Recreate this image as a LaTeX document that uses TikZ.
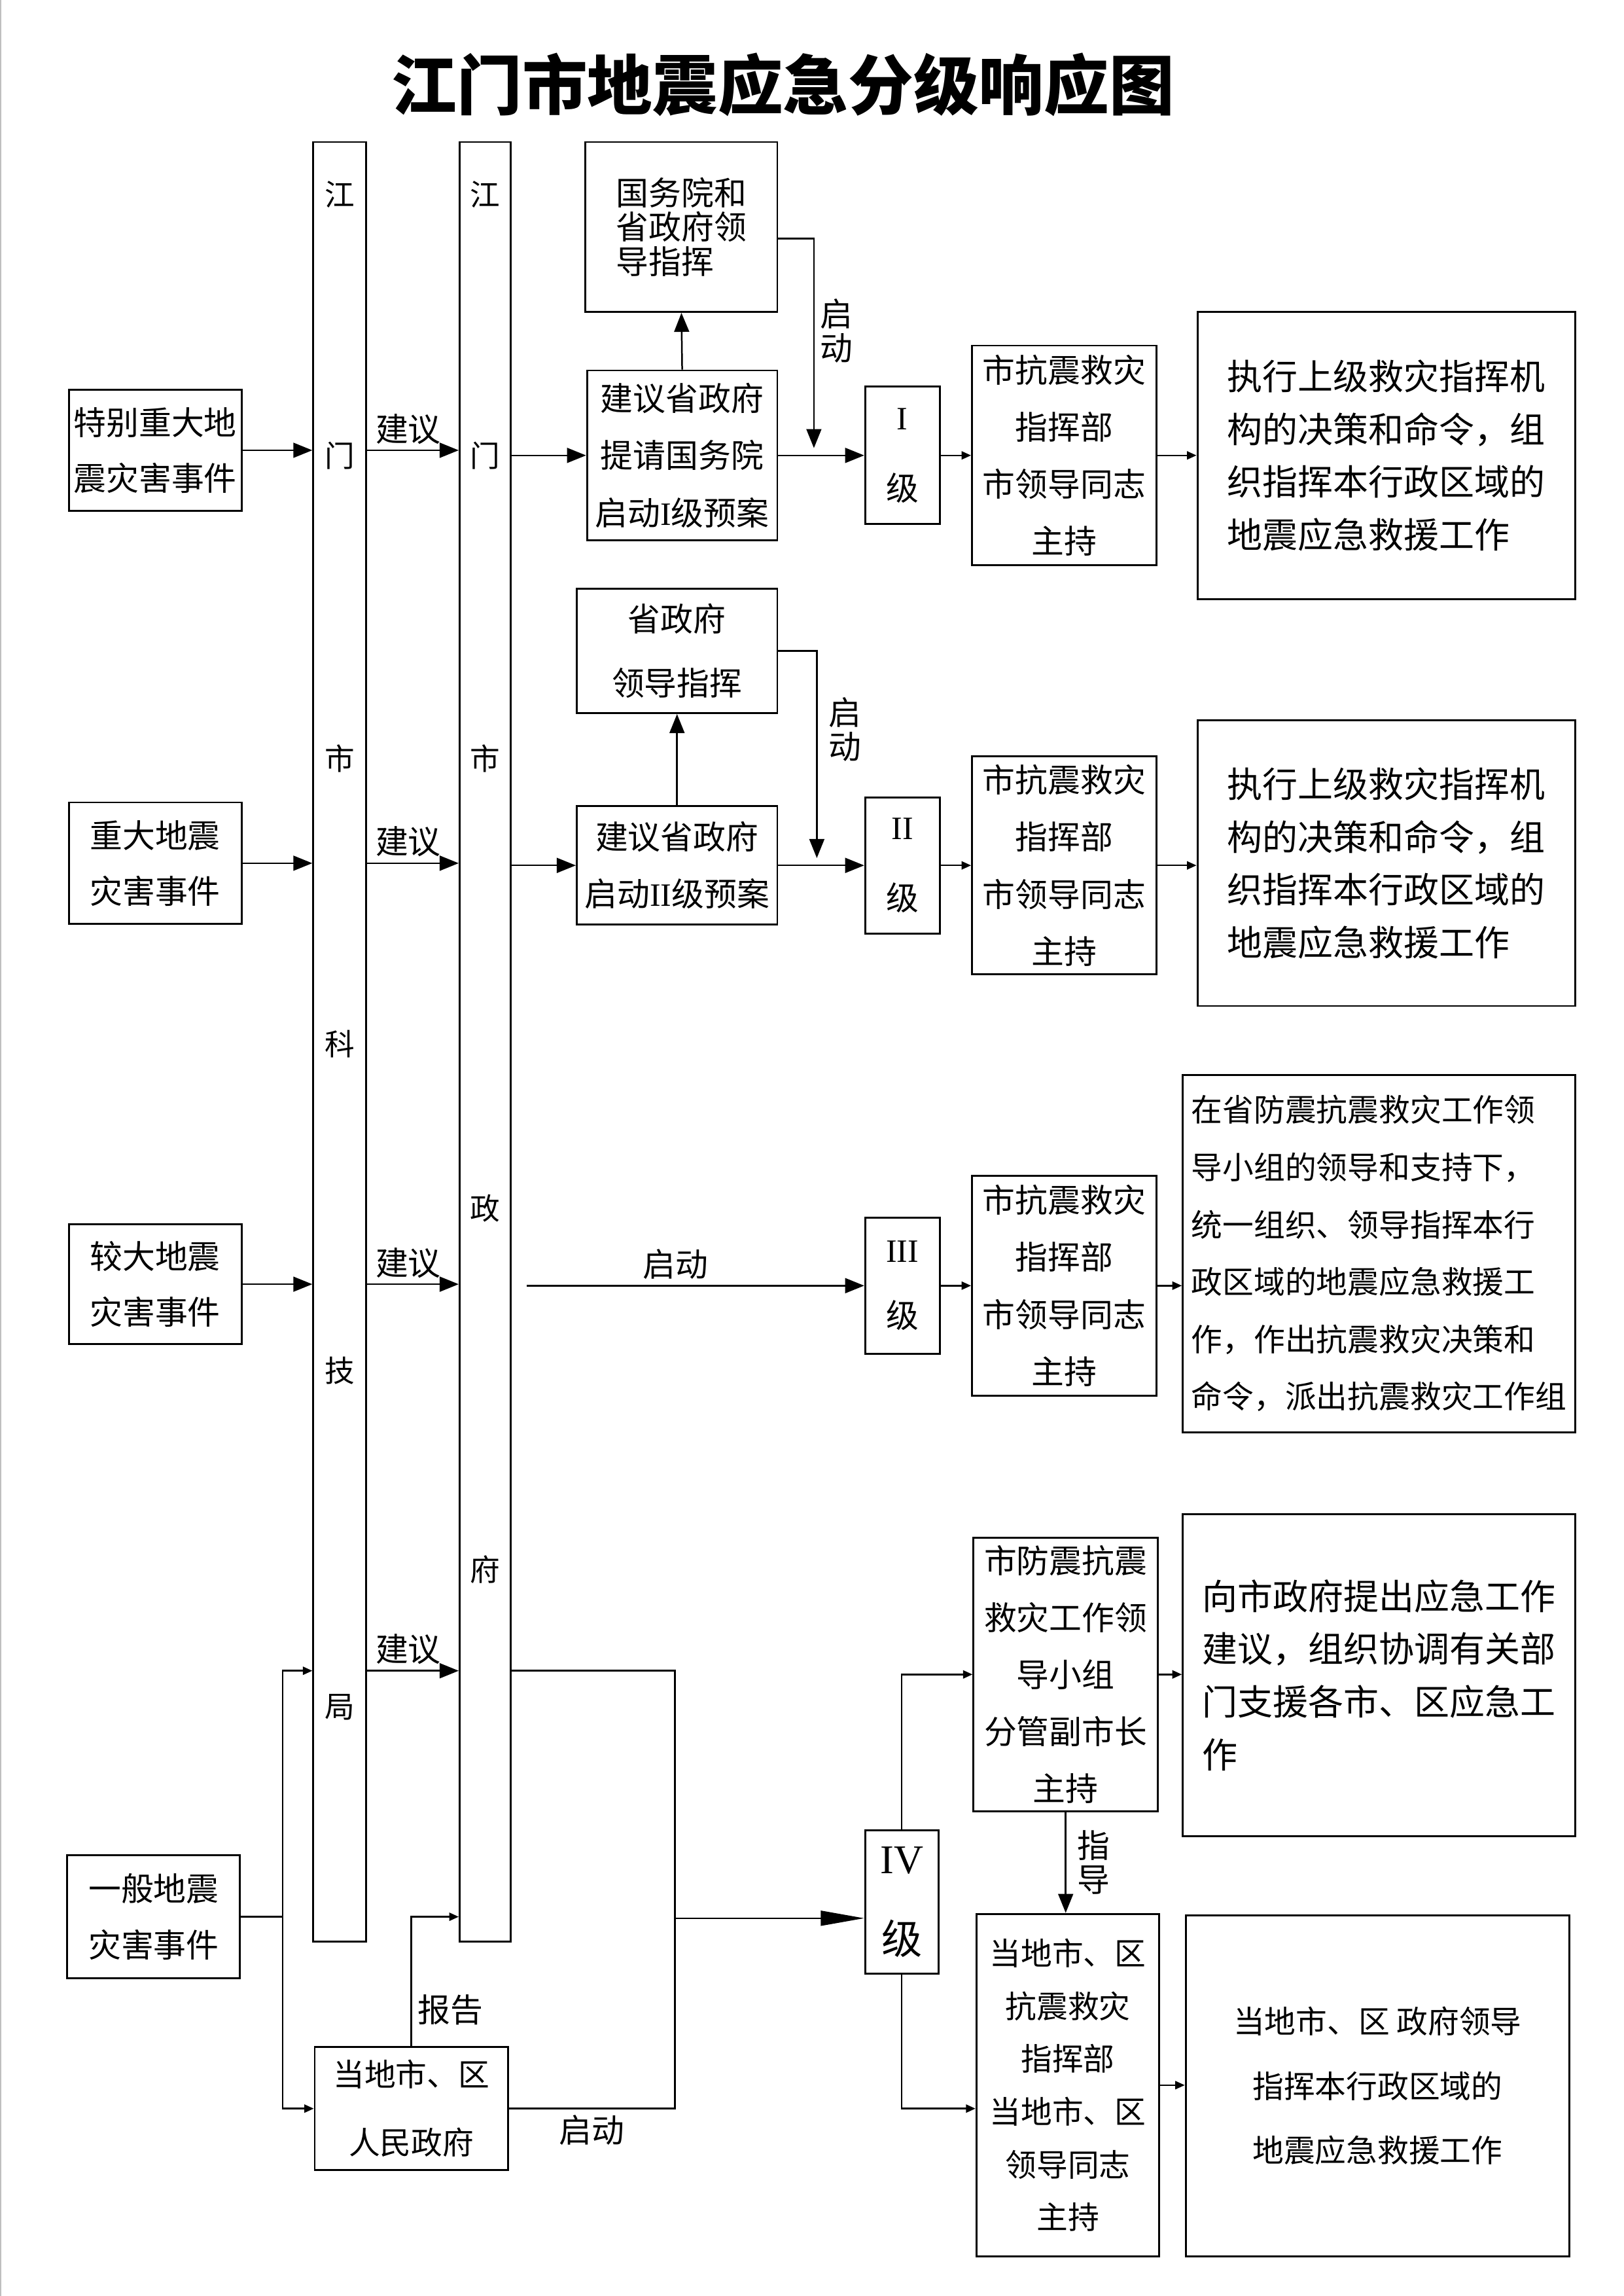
\documentclass[tikz,border=0pt]{standalone}
\usepackage{fontspec}
\setmainfont{Noto Sans CJK SC}
\newfontfamily\romfont{Liberation Serif}
\usetikzlibrary{arrows.meta}

\tikzset{
  box/.style={draw, line width=0.7pt, inner sep=0pt, align=center},
  wh/.style 2 args={minimum width=#1*0.018936cm, minimum height=#2*0.018936cm},
  fs/.style 2 args={font=\fontsize{#1pt}{#2pt}\selectfont},
  lbl/.style={inner sep=2pt, align=center, fs={12}{12.5}},
  big/.style={line width=0.6pt, -{Triangle[length=7pt,width=5.5pt]}},
  small/.style={line width=0.6pt, -{Triangle[length=3.5pt,width=3pt]}},
  ivarrow/.style={line width=0.6pt, -{Triangle[length=16pt,width=5.5pt]}},
}

\begin{document}
\begin{tikzpicture}[x=0.018936cm, y=-0.018936cm, line width=0.6pt]
 \useasboundingbox (0,0) rectangle (1109,1568);
 \draw[gray!50, line width=0.5pt] (0.5,0) -- (0.5,1568);

 \node[font=\fontsize{24pt}{24pt}\selectfont\bfseries] (title) at (535,58) {江门市地震应急分级响应图};

 \node[box, wh={118}{83}, fs={12}{20.5}] (ev1) at (106,307.5) {特别重大地\\震灾害事件};
 \node[box, wh={118}{83}, fs={12}{20.5}] (ev2) at (106,589.5) {重大地震\\灾害事件};
 \node[box, wh={118}{82}, fs={12}{20.5}] (ev3) at (106,877) {较大地震\\灾害事件};
 \node[box, wh={118}{84}, fs={12}{20.5}] (ev4) at (105,1309) {一般地震\\灾害事件};

 \node[box, wh={36}{1229}] (kjj) at (232,711.5) {};
 \node[box, wh={35}{1229}] (zf)  at (331.5,711.5) {};
 \foreach \ch/\y [count=\i] in {江/133, 门/311, 市/518, 科/713, 技/936, 局/1166}
   \node[fs={11}{11}] (kc\i) at (232,\y) {\ch};
 \foreach \ch/\y [count=\i] in {江/133, 门/311, 市/518, 政/825, 府/1072}
   \node[fs={11}{11}] (zc\i) at (331.5,\y) {\ch};

 \node[box, wh={131}{116}, fs={12}{12.7}, align=left] (gwy) at (465.5,155) {国务院和\\省政府领\\导指挥};
 \node[box, wh={130}{116}, fs={12}{21}] (jy1) at (466,311) {建议省政府\\提请国务院\\启动{\romfont I}级预案};
 \node[box, wh={51}{94}, fs={12}{26}] (lv1) at (616.5,311) {{\romfont I}\\级};
 \node[box, wh={126}{150}, fs={12}{21}] (zh1) at (727,311) {市抗震救灾\\指挥部\\市领导同志\\主持};
 \node[box, wh={258}{196}, fs={13}{19.4}, align=left] (zx1) at (947,311) {执行上级救灾指挥机\\构的决策和命令，组\\织指挥本行政区域的\\地震应急救援工作};

 \node[box, wh={137}{85}, fs={12}{23.7}] (sz) at (462.5,444.5) {省政府\\领导指挥};
 \node[box, wh={137}{81}, fs={12}{21}] (jy2) at (462.5,591) {建议省政府\\启动{\romfont II}级预案};
 \node[box, wh={51}{93}, fs={12}{26}] (lv2) at (616.5,591) {{\romfont II}\\级};
 \node[box, wh={126}{149}, fs={12}{21}] (zh2) at (727,591) {市抗震救灾\\指挥部\\市领导同志\\主持};
 \node[box, wh={258}{195}, fs={13}{19.4}, align=left] (zx2) at (947,589.5) {执行上级救灾指挥机\\构的决策和命令，组\\织指挥本行政区域的\\地震应急救援工作};

 \node[box, wh={51}{93}, fs={12}{24}] (lv3) at (616.5,878) {{\romfont III}\\级};
 \node[box, wh={126}{150}, fs={12}{21}] (zh3) at (727,878) {市抗震救灾\\指挥部\\市领导同志\\主持};
 \node[box, wh={268}{244}, fs={11.5}{21.1}, align=left] (zx3) at (942,856) {在省防震抗震救灾工作领\\导小组的领导和支持下，\\统一组织、领导指挥本行\\政区域的地震应急救援工\\作，作出抗震救灾决策和\\命令，派出抗震救灾工作组};

 \node[box, wh={50}{98}, fs={15}{29.6}] (lv4) at (616,1299) {{\romfont IV}\\级};
 \node[box, wh={126}{187}, fs={12}{21}] (fz) at (728,1143.5) {市防震抗震\\救灾工作领\\导小组\\分管副市长\\主持};
 \node[box, wh={268}{220}, fs={13}{19.4}, align=left] (fzjy) at (942,1144) {向市政府提出应急工作\\建议，组织协调有关部\\门支援各市、区应急工\\作};
 \node[box, wh={125}{234}, fs={11.5}{19.4}] (dd) at (729.5,1424) {当地市、区\\抗震救灾\\指挥部\\当地市、区\\领导同志\\主持};
 \node[box, wh={262}{233}, fs={11.5}{23.7}] (ddzx) at (941,1424.5) {当地市、区~政府领导\\指挥本行政区域的\\地震应急救援工作};
 \node[box, wh={132}{84}, fs={11.5}{25}] (rmzf) at (281,1440) {当地市、区\\人民政府};

 \coordinate (qd1) at (556,306);
 \coordinate (qd2) at (558,586);
 \coordinate (s3)  at (360,878);
 \coordinate (jn)  at (193,1309);
 \coordinate (r4)  at (193,1141);
 \coordinate (bus) at (461,1310);

 \path[big] (ev1.east) edge (ev1.east -| kjj.west);
 \path[big] (ev2.east) edge (ev2.east -| kjj.west);
 \path[big] (ev3.east) edge (ev3.east -| kjj.west);
 \path[big] (kjj.east |- ev1) edge node[above, lbl, pos=0.45] {建议} (zf.west |- ev1);
 \path[big] (kjj.east |- ev2) edge node[above, lbl, pos=0.45] {建议} (zf.west |- ev2);
 \path[big] (kjj.east |- ev3) edge node[above, lbl, pos=0.45] {建议} (zf.west |- ev3);
 \path[big] (kjj.east |- r4)  edge node[above, lbl, pos=0.45] {建议} (zf.west |- r4);

 \path[big] (zf.east |- jy1) edge (jy1.west);
 \path[big] (jy1.north) edge (gwy.south);
 \draw[big] ([yshift=-0.15cm]gwy.east) -| node[pos=0.72, right, lbl] {启\\动} (qd1);
 \path[big] (jy1.east) edge (lv1.west);
 \path[small] (lv1.east) edge (zh1.west);
 \path[small] (zh1.east) edge (zh1.east -| zx1.west);

 \path[big] (zf.east |- jy2) edge (jy2.west);
 \path[big] (jy2.north) edge (sz.south);
 \draw[big] (sz.east) -| node[pos=0.69, right, lbl, inner sep=4pt] {启\\动} (qd2);
 \path[big] (jy2.east) edge (lv2.west);
 \path[small] (lv2.east) edge (zh2.west);
 \path[small] (zh2.east) edge (zh2.east -| zx2.west);

 \path[big] (s3) edge node[above, lbl, pos=0.44] {启动} (lv3.west |- s3);
 \path[small] (lv3.east) edge (zh3.west);
 \path[small] (zh3.east) edge (zh3.east -| zx3.west);

 \draw (ev4.east) -- (jn);
 \draw[small] (jn) |- (r4 -| kjj.west);
 \draw[small] (jn) |- (rmzf.west);
 \draw[small] (rmzf.north) |- node[pos=0.14, right, lbl] {报告} (zf.west |- ev4);
 \draw (zf.east |- r4) -| (bus);
 \draw (rmzf.east) -- node[below, lbl] {启动} (rmzf.east -| bus) -- (bus);
 \path[ivarrow] (bus) edge (bus -| lv4.west);
 \draw[small] (lv4.north) |- (fz.west);
 \draw[small] (lv4.south) |- (dd.west |- rmzf);
 \path[big] (fz.south) edge node[right, lbl, inner sep=4pt] {指\\导} (fz.south |- dd.north);
 \path[small] (fz.east) edge (fz.east -| fzjy.west);
 \path[small] (dd.east) edge (dd.east -| ddzx.west);
\end{tikzpicture}
\end{document}
